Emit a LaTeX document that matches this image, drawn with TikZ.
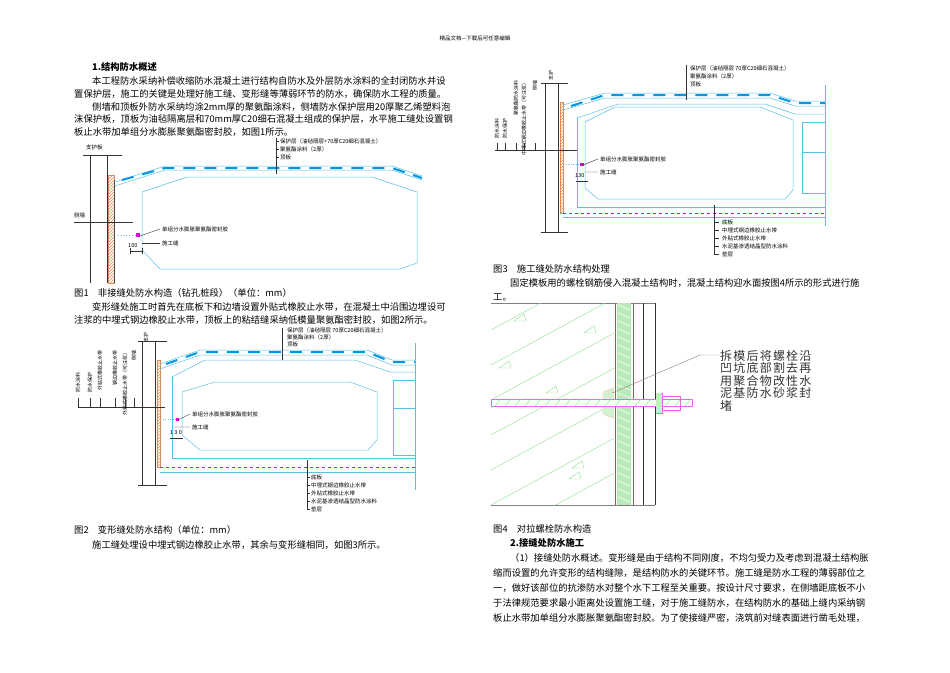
\documentclass[tikz,border=0pt]{standalone}
\usepackage{fontspec}
\setmainfont{Noto Sans CJK SC}
\usetikzlibrary{patterns}
\definecolor{cb}{RGB}{90,190,230}
\definecolor{cd}{RGB}{0,150,225}
\definecolor{mg}{RGB}{220,0,220}
\definecolor{gr}{RGB}{140,220,140}
\definecolor{hatchc}{RGB}{220,140,90}
\tikzset{
 body/.style={anchor=base west,inner sep=0,font=\fontsize{9.3}{10}\selectfont},
 bodyb/.style={body,font=\fontsize{9.3}{10}\selectfont\bfseries},
 lbl/.style={anchor=west,inner sep=0,font=\fontsize{5.5}{6}\selectfont},
 vlbl/.style={anchor=east,inner sep=0,rotate=90,font=\fontsize{5}{6}\selectfont},
 bl/.style={draw=cb,line width=0.5pt},
 dsh/.style={draw=cd,line width=2pt,dash pattern=on 12pt off 9pt},
 blk/.style={draw=black!80,line width=0.4pt},
 hat/.style={pattern=north east lines,pattern color=hatchc,draw=hatchc,line width=0.3pt},
}
\begin{document}
\begin{tikzpicture}[x=1pt,y=-1pt]
\useasboundingbox (0,0) rectangle (950,672);
\node[anchor=center,font=\fontsize{5.5}{6}\selectfont] (hdr) at (475,38) {精品文档---下载后可任意编辑};
% left column text
\node[bodyb] (t1) at (92,70) {1.结构防水概述};
\node[body] (t2) at (92,84) {本工程防水采纳补偿收缩防水混凝土进行结构自防水及外层防水涂料的全封闭防水并设};
\node[body] (t3) at (74,97) {置保护层，施工的关键是处理好施工缝、变形缝等薄弱环节的防水，确保防水工程的质量。};
\node[body] (t4) at (92,110) {侧墙和顶板外防水采纳均涂2mm厚的聚氨酯涂料，侧墙防水保护层用20厚聚乙烯塑料泡};
\node[body] (t5) at (74,122) {沫保护板，顶板为油毡隔离层和70mm厚C20细石混凝土组成的保护层，水平施工缝处设置钢};
\node[body] (t6) at (74,135) {板止水带加单组分水膨胀聚氨酯密封胶，如图1所示。};
% ---- Fig 1
\node[lbl] (f1a) at (86,147) {支护板};
\draw[blk] (83,155)--(122,155);
\draw[blk] (90,155)--(90,283) (107,155)--(107,283);
\fill[hat] (108,175) rectangle (114,283);
\draw[black!70,line width=1pt] (114,180)--(114,283);
\node[lbl] (f1b) at (74,215) {侧墙};
\draw[blk] (74,222)--(133,222);
\draw[bl] (115,182)--(165,166)--(392,166)--(422,176);
\draw[bl] (115,186)--(165,170)--(392,170)--(422,180);
\draw[dsh] (122,180)--(165,168)--(392,168)--(422,178);
\draw[bl] (142,192)--(187,177)--(372,177)--(417,192)--(417,263)--(400,269)--(160,269)--(142,250)--cycle;
\draw[cb,dotted,thick] (118,235)--(138,235);
\fill[mg] (136,233) rectangle (140,237);
\node[lbl] (f1c) at (162,229) {单组分水膨胀聚氨酯密封胶};
\node[lbl] (f1d) at (162,243) {施工缝};
\draw[blk] (140,236)--(160,229);
\draw[blk] (142,243)--(160,243);
\node[lbl] (f1e) at (128,246) {100};
\draw[blk] (130,251)--(142,251) (130,248)--(130,254) (142,248)--(142,254);
\draw[blk] (276,138)--(276,174);
\node[lbl] (f1f) at (280,141) {保护层（油毡隔层+70厚C20细石混凝土）};
\node[lbl] (f1g) at (280,149) {聚氨酯涂料（2厚）};
\node[lbl] (f1h) at (280,157) {顶板};
\foreach \yy in {141,149,157} \draw[blk] (276,\yy)--(279,\yy);
\node[body] (c1) at (74,296) {图1\quad 非接缝处防水构造（钻孔桩段）（单位：mm）};
\node[body] (t7) at (92,310) {变形缝处施工时首先在底板下和边墙设置外贴式橡胶止水带，在混凝土中沿围边埋设可};
\node[body] (t8) at (74,323) {注浆的中埋式钢边橡胶止水带，顶板上的粘结缝采纳低模量聚氨酯密封胶，如图2所示。};
% ---- Fig 2
\node[vlbl] (f2a) at (146,332) {支护};
\draw[blk] (138,341)--(167,341) (138,485)--(167,485);
\draw[blk] (142,341)--(142,485) (155,341)--(155,485);
\fill[hat] (157,360) rectangle (160,467);
\draw[blk] (78,407)--(165,407);
\foreach \xx/\tt in {78/防水涂料,90/防水保护,100/外贴式橡胶止水带,115/钢边橡胶止水带,125/外贴式橡胶止水带（可注浆）,134/侧墙}{
 \node[vlbl] at (\xx,\ifnum\xx<100 372\else 350\fi) {\tt};
 \draw[blk] (\xx,398)--(\xx,407);}
\draw[bl] (160,364)--(200,350)--(367,350)--(392,360)--(415,360);
\draw[bl] (160,369)--(200,355)--(367,355)--(392,365)--(415,365);
\draw[dsh] (166,364)--(200,352)--(367,352)--(392,362)--(415,362);
\draw[bl] (415,343)--(415,490);
\draw[bl] (172,377)--(205,360)--(355,360)--(390,372)--(415,372);
\draw[bl] (172,377)--(172,458)--(415,458);
\draw[bl] (182,392)--(215,382)--(350,382)--(377,392)--(377,440)--(368,450)--(200,450)--(182,435)--cycle;
\draw[bl] (393,380) rectangle (415,455);
\draw[bl] (393,408)--(415,408);
\draw[mg,dashed,line width=0.8pt] (160,467)--(415,467);
\draw[bl] (160,472)--(415,472);
\fill[mg] (176,418) rectangle (179,421);
\draw[cb,dotted] (163,419)--(176,419);
\node[lbl] (f2b) at (192,414) {单组分水膨胀聚氨酯密封胶};
\node[lbl] (f2c) at (192,427) {施工缝};
\draw[blk] (178,420)--(190,414) (175,427)--(190,427);
\node[lbl] (f2d) at (170,433) {1 3 0};
\draw[blk] (170,438)--(183,438);
\draw[blk] (282,328)--(282,360);
\node[lbl] (f2e) at (287,330) {保护层（油毡隔层 70厚C20细石混凝土）};
\node[lbl] (f2f) at (287,337) {聚氨酯涂料（2厚）};
\node[lbl] (f2g) at (287,344) {顶板};
\draw[blk] (307,460)--(307,510);
\foreach \yy/\tt in {477/底板,485/中埋式钢边橡胶止水带,493/外贴式橡胶止水带,501/水泥基渗透结晶型防水涂料,509/垫层}{
 \node[lbl] at (311,\yy) {\tt}; \draw[blk] (307,\yy)--(310,\yy);}
\node[body] (c2) at (74,533) {图2\quad 变形缝处防水结构（单位：mm）};
\node[body] (t9) at (92,548) {施工缝处埋设中埋式钢边橡胶止水带，其余与变形缝相同，如图3所示。};
% ---- Fig 3
\node[vlbl] (f3a) at (551,70) {支护};
\draw[blk] (541,83)--(568,83) (541,232)--(568,232);
\draw[blk] (545,83)--(545,232) (558,83)--(558,232);
\fill[hat] (560,102) rectangle (563,213);
\draw[blk] (495,150)--(578,150);
\foreach \xx/\tt in {497/防水涂料,505/防水保护,516/聚氨酯防水涂料,524/中埋式钢边橡胶止水带（可注浆）,535/侧墙}{
 \node[vlbl] at (\xx,\ifnum\xx<516 118\else 80\fi) {\tt};
 \draw[blk] (\xx,143)--(\xx,150);}
\draw[bl] (563,105)--(605,93)--(770,93)--(795,101)--(825,101);
\draw[bl] (563,110)--(605,98)--(770,98)--(795,106)--(825,106);
\draw[dsh] (571,106)--(605,95)--(770,95)--(795,103)--(825,103);
\draw[bl] (825,85)--(825,226);
\draw[bl] (577,118)--(618,104)--(765,104)--(795,114)--(825,114);
\draw[bl] (577,118)--(577,207)--(825,207);
\draw[bl] (585,122)--(615,107)--(760,107)--(793,120)--(793,190)--(785,199)--(598,199)--(585,188)--cycle;
\draw[bl] (802,122) rectangle (825,193);
\draw[bl] (802,152)--(825,152);
\draw[mg,dashed,line width=0.8pt] (563,213)--(825,213);
\draw[bl] (563,217)--(825,217);
\fill[mg] (580,163) rectangle (584,166);
\draw[cb,dotted] (566,164)--(580,164);
\node[lbl] (f3b) at (600,159) {单组分水膨胀聚氨酯密封胶};
\node[lbl] (f3c) at (600,172) {施工缝};
\draw[blk] (583,165)--(598,159) (585,172)--(598,172);
\node[lbl] (f3d) at (575,176) {130};
\draw[blk] (576,181)--(588,181);
\draw[blk] (686,65)--(686,100);
\node[lbl] (f3e) at (690,68) {保护层（油毡隔层 70厚C20细石混凝土）};
\node[lbl] (f3f) at (690,76) {聚氨酯涂料（2厚）};
\node[lbl] (f3g) at (690,84) {顶板};
\draw[blk] (714,205)--(714,255);
\foreach \yy/\tt in {222/底板,230/中埋式钢边橡胶止水带,238/外贴式橡胶止水带,246/水泥基渗透结晶型防水涂料,254/垫层}{
 \node[lbl] at (722,\yy) {\tt}; \draw[blk] (714,\yy)--(719,\yy);}
\node[body] (c3) at (493,272) {图3\quad 施工缝处防水结构处理};
\node[body] (t10) at (510,286) {固定模板用的螺栓钢筋侵入混凝土结构时，混凝土结构迎水面按图4所示的形式进行施};
\node[body] (t11) at (493,300) {工。};
% ---- Fig 4
\draw[black!50] (491,303)--(655,303) (491,505)--(655,505);
\begin{scope}
\clip (491,303) rectangle (614,505);
\foreach \k in {0,...,6} \draw[gr] (491,330+\k*35)--(620,260+\k*35);
\end{scope}
\foreach \p in {(520,318),(590,330),(505,365),(552,390),(578,465),(575,476)}
  \draw[gr] \p ++(-6,3)--++(12,0)--++(-2,-7)--cycle;
\fill[gr!60] (617,303) rectangle (631,505);
\foreach \yy in {305,313,...,500} \draw[white,line width=0.6pt] (618,\yy)--(630,\yy+5);
\draw[red!60!black!70] (615,303)--(615,505) (633,303)--(633,505);
\draw[black!80] (643,303)--(643,505) (655,303)--(655,505);
\draw[red!50] (614,388)--(603,392)--(603,414)--(614,418);
\fill[gr!40] (603,392)--(614,388)--(614,418)--(603,414)--cycle;
\fill[white] (491,399) rectangle (692,406);
\draw[mg!60] (491,399) rectangle (692,406);
\foreach \xx in {495,505,...,685} \draw[gr] (\xx,406)--(\xx+6,399);
\draw[mg!60] (656,393) rectangle (662,413);
\draw[mg!60] (662,396) rectangle (680,410);
\fill[gr!50] (656,393) rectangle (662,413);
\coordinate (lk) at (700,355);
\draw[black!50] (612,393)--(lk)--(719,355);
\node[anchor=north west,inner sep=0,align=left,text=black!80,font=\fontsize{12}{12.5}\selectfont\addfontfeature{LetterSpace=10}] (f4t) at (720,350) {拆模后将螺栓沿\\凹坑底部割去再\\用聚合物改性水\\泥基防水砂浆封\\堵};
\node[body] (c4) at (493,532) {图4\quad 对拉螺栓防水构造};
\node[bodyb] (t12) at (510,546) {2.接缝处防水施工};
\node[body] (t13) at (510,561) {（1）接缝处防水概述。变形缝是由于结构不同刚度，不均匀受力及考虑到混凝土结构胀};
\node[body] (t14) at (493,576) {缩而设置的允许变形的结构缝隙，是结构防水的关键环节。施工缝是防水工程的薄弱部位之};
\node[body] (t15) at (493,591) {一，做好该部位的抗渗防水对整个水下工程至关重要。按设计尺寸要求，在侧墙距底板不小};
\node[body] (t16) at (493,606) {于法律规范要求最小距离处设置施工缝，对于施工缝防水，在结构防水的基础上缝内采纳钢};
\node[body] (t17) at (493,621) {板止水带加单组分水膨胀聚氨酯密封胶。为了使接缝严密，浇筑前对缝表面进行凿毛处理，};
\end{tikzpicture}
\end{document}
